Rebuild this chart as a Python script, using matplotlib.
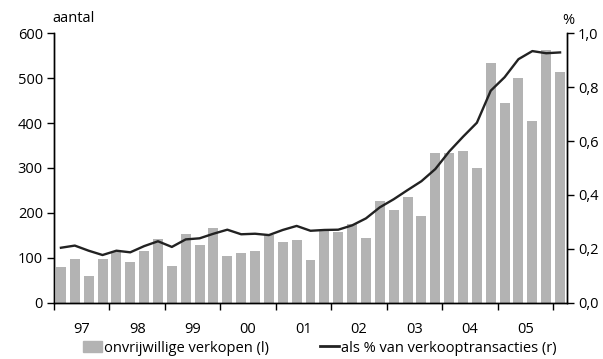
import matplotlib.pyplot as plt
from matplotlib.patches import Patch
from matplotlib.lines import Line2D

plt.rcParams['font.family'] = ['Open Sans', 'DejaVu Sans']
plt.rcParams['font.size'] = 10.5

# kwartaalcijfers 1997 K1 t/m 2006 K1
years = ['97', '98', '99', '00', '01', '02', '03', '04', '05']
verkopen = [80, 98, 60, 98, 114, 91, 116, 141,
            82, 153, 129, 166, 105, 111, 116, 150,
            136, 140, 94, 162, 158, 175, 143, 226,
            206, 235, 193, 333, 333, 338, 300, 534,
            445, 500, 404, 563, 514]
aandeel = [0.204, 0.212, 0.193, 0.177, 0.193, 0.187, 0.210, 0.228,
           0.207, 0.235, 0.239, 0.256, 0.271, 0.254, 0.256, 0.251,
           0.270, 0.285, 0.267, 0.270, 0.271, 0.287, 0.313, 0.354,
           0.384, 0.418, 0.451, 0.496, 0.561, 0.616, 0.668, 0.787,
           0.837, 0.904, 0.934, 0.926, 0.929]

bar_color = '#b3b3b3'
line_color = '#222222'

fig = plt.figure(figsize=(6.03, 3.59), dpi=100)
ax = fig.add_axes([54 / 603, 1 - 302.7 / 359, (567 - 54) / 603, (302.7 - 33.3) / 359])
ax2 = ax.twinx()

x = list(range(len(verkopen)))
ax.bar(x, verkopen, width=0.72, color=bar_color, zorder=2)
ax2.plot(x, aandeel, color=line_color, lw=1.7, zorder=3)

ax.set_xlim(-0.5, len(verkopen) - 0.5)
ax.set_ylim(0, 600)
ax.set_yticks(range(0, 601, 100))
ax2.set_ylim(0, 1.0)
ax2.set_yticks([0, 0.2, 0.4, 0.6, 0.8, 1.0])
ax2.set_yticklabels(['0,0', '0,2', '0,4', '0,6', '0,8', '1,0'])

# jaargrenzen als major ticks, jaarlabels in het midden
ax.set_xticks([i * 4 - 0.5 for i in range(len(years) + 1)])
ax.set_xticklabels([])
ax.set_xticks([i * 4 + 1.5 for i in range(len(years))], minor=True)
ax.set_xticklabels(years, minor=True)
ax.tick_params(axis='x', which='major', direction='out', length=5, width=1)
ax.tick_params(axis='x', which='minor', length=0, pad=14)
ax.tick_params(axis='y', direction='out', length=5, width=1, pad=3)
ax2.tick_params(axis='y', direction='out', length=5, width=1, pad=3)

for a in (ax, ax2):
    a.spines['top'].set_visible(False)
    for s in ('left', 'right', 'bottom'):
        a.spines[s].set_linewidth(1)
        a.spines[s].set_color('black')

fig.text(52 / 603, 1 - 18 / 359, 'aantal', ha='left', va='center')
fig.text(574 / 603, 1 - 20 / 359, '%', ha='right', va='center')

handles = [Patch(color=bar_color), Line2D([], [], color=line_color, lw=2)]
labels = ['onvrijwillige verkopen (l)', 'als % van verkooptransacties (r)']
fig.legend(handles, labels, loc='center', bbox_to_anchor=(320 / 603, 1 - 348 / 359),
           ncol=2, frameon=False, handlelength=1.3, handletextpad=0.15,
           columnspacing=3.5, borderaxespad=0, borderpad=0)

fig.savefig('out.png', dpi=100)
